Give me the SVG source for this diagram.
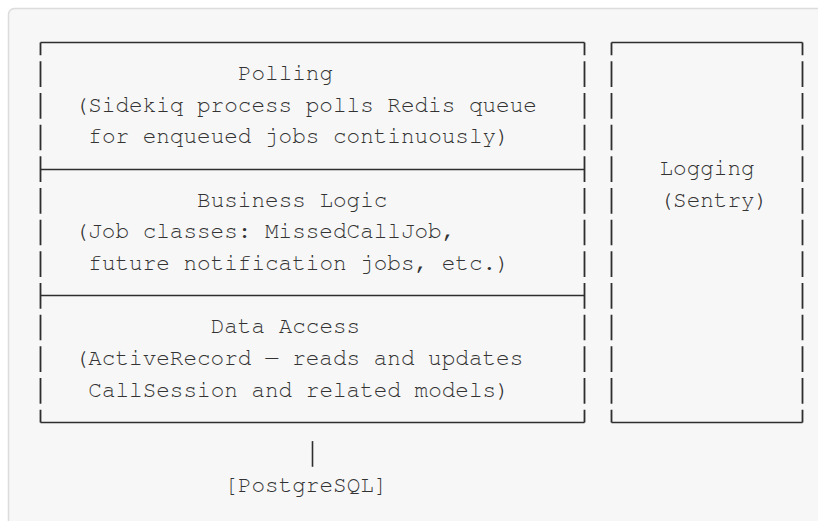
<svg xmlns="http://www.w3.org/2000/svg" width="818" height="521" viewBox="0 0 818 521">
  <style>
    .t { font-family: "Nimbus Mono PS", "Nimbus Mono L", FreeMono, "Courier New", "Liberation Mono", monospace; font-size: 22.667px; fill: #333333; }
    .h { stroke: #2e2e2e; stroke-width: 1.6; fill: none; }
    .v { stroke: #2e2e2e; stroke-width: 1.8; fill: none; stroke-dasharray: 25.7 5.967; stroke-dashoffset: 12.85; }
  </style>
  <rect x="0" y="0" width="818" height="521" fill="#ffffff"/>
  <rect x="8.5" y="8.5" width="830" height="540" rx="6" fill="#f7f7f7" stroke="#dcdcdc" stroke-width="1.5"/>

  <g id="node-worker-layers">
    <line class="h" x1="40.5" y1="42.5" x2="584.5" y2="42.5"/>
    <line class="h" x1="40.5" y1="169.5" x2="584.5" y2="169.5"/>
    <line class="h" x1="40.5" y1="295.5" x2="584.5" y2="295.5"/>
    <line class="h" x1="40.5" y1="422.5" x2="584.5" y2="422.5"/>
    <line class="v" x1="40.5" y1="42.5" x2="40.5" y2="422.5"/>
    <line class="v" x1="584.5" y1="42.5" x2="584.5" y2="422.5"/>
  </g>

  <g id="node-polling">
    <text class="t" x="237.9" y="80">Polling</text>
    <text class="t" x="74.7" y="111.67">(Sidekiq process polls Redis queue</text>
    <text class="t" x="88.3" y="143.34">for enqueued jobs continuously)</text>
  </g>

  <g id="node-business-logic">
    <text class="t" x="197.1" y="206.67">Business Logic</text>
    <text class="t" x="74.7" y="238.34">(Job classes: MissedCallJob,</text>
    <text class="t" x="88.3" y="270">future notification jobs, etc.)</text>
  </g>

  <g id="node-data-access">
    <text class="t" x="210.7" y="333.34">Data Access</text>
    <text class="t" x="74.7" y="365">(ActiveRecord — reads and updates</text>
    <text class="t" x="88.3" y="396.67">CallSession and related models)</text>
  </g>

  <g id="node-logging">
    <line class="h" x1="611.5" y1="42.5" x2="802.5" y2="42.5"/>
    <line class="h" x1="611.5" y1="422.5" x2="802.5" y2="422.5"/>
    <line class="v" x1="611.5" y1="42.5" x2="611.5" y2="422.5"/>
    <line class="v" x1="802.5" y1="42.5" x2="802.5" y2="422.5"/>
    <text class="t" x="659.5" y="175">Logging</text>
    <text class="t" x="659.5" y="206.67">(Sentry)</text>
  </g>

  <g id="connectors">
    <line class="h" x1="312.5" y1="441.1" x2="312.5" y2="466.8"/>
  </g>

  <g id="node-postgresql">
    <text class="t" x="224.3" y="491.67">[PostgreSQL]</text>
  </g>
</svg>
